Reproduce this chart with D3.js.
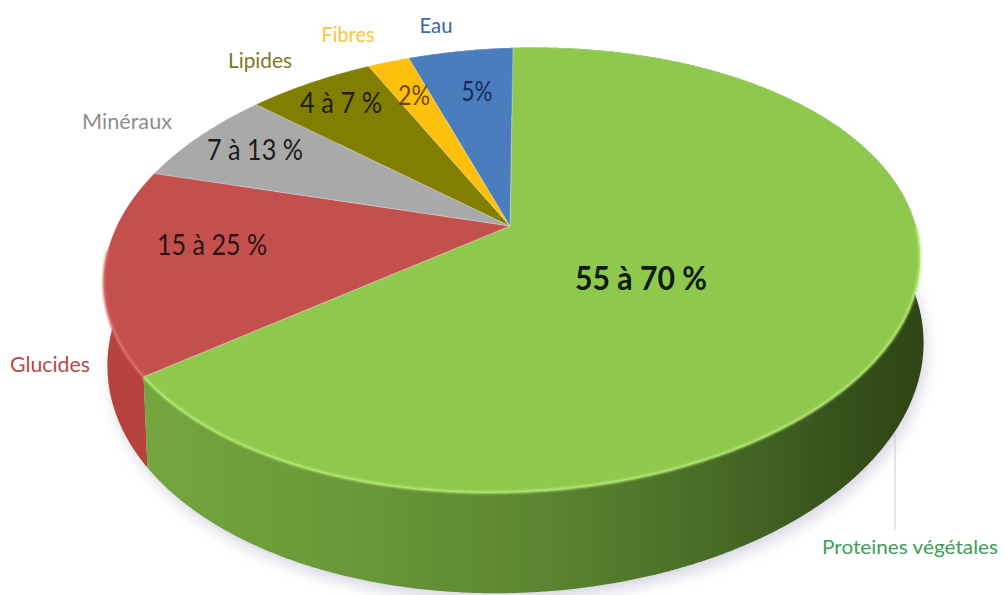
<!DOCTYPE html>
<html>
<head>
<meta charset="utf-8">
<script src="https://cdn.jsdelivr.net/npm/d3@7"></script>
<style>
  html, body { margin: 0; padding: 0; background: #ffffff; }
  svg { display: block; }
  text { font-family: Lato, "Open Sans", "Noto Sans", sans-serif; }
</style>
</head>
<body>
<svg id="chart" width="1006" height="595"></svg>
<script>
// ---- data ----
const categories = ["Proteines végétales", "Glucides", "Minéraux", "Lipides", "Fibres", "Eau"];
const values = [65, 15, 7, 6, 2, 5];
const valueLabels = ["55 à 70 %", "15 à 25 %", "7 à 13 %", "4 à 7 %", "2%", "5%"];

// ---- styles ----
const topColors = ["#8ec94d", "#c4504d", "#a9a9a9", "#807f02", "#fdc00c", "#4a7dbe"];
const rimColors = ["#b4ec72", "#d9706b", "#c4c4c4", "#9a9a20", "#ffd95a", "#6d9ad4"];
const valueColors = ["#0f1a08", "#2b1212", "#1c1c1c", "#1e1e02", "#6a4806", "#18295a"];
const nameColors = ["#3f9d5c", "#b9474b", "#8e8e8e", "#7b7b22", "#f7c73c", "#3a69a8"];

// label layout (centre x, baseline y, width, size, weight)
const valueLabelLayout = [
  [641, 290, 132, 32, 700],
  [212, 255, 110, 28, 400],
  [255, 160, 96, 28, 400],
  [341, 113, 82, 28, 400],
  [414, 105, 32, 26, 400],
  [477, 101, 31, 26, 400]
];
const nameLabelLayout = [
  [910, 554, 176, 20],
  [50, 372, 80, 22],
  [127, 129, 90, 22],
  [260, 68, 64, 22],
  [348, 42, 53, 22],
  [436, 33, 33, 22]
];

// ---- 3D view of the disc ----
const view = {
  cx: 510, cy: 226,        // projected centre of the top face
  focal: 1709,             // focal length (in pixels, radius = 1)
  dist: 4.27,              // camera distance (in radii)
  tilt: 32.2 * Math.PI / 180,
  roll: 2.45 * Math.PI / 180,
  depth: 0.239,            // thickness of the disc (in radii)
  start: 1.8 * Math.PI / 180
};
const sT = Math.sin(view.tilt), cT = Math.cos(view.tilt);
const sR = Math.sin(view.roll), cR = Math.cos(view.roll);

// theta: clockwise from the far point; r: radius fraction; h: height (0 = top face, negative = below)
// the thickness is drawn with the scale of the top rim so the walls stay upright
function project(theta, r, h) {
  const x = r * Math.sin(theta), z = -r * Math.cos(theta);
  const Y = h * cT - z * sT;
  const w = view.dist - z * cT;
  const px = view.focal * x / w, py = -view.focal * Y / w;
  return [view.cx + px * cR + py * sR, view.cy - px * sR + py * cR];
}
function rim(a0, a1, h) {
  const n = Math.max(2, Math.ceil(Math.abs(a1 - a0) / 0.005));
  return d3.range(n + 1).map(i => project(a0 + (a1 - a0) * i / n, 1, h));
}

const data = categories.map((c, i) => ({ name: c, value: values[i], label: valueLabels[i], i }));
const pie = d3.pie().sort(null).value(d => d.value)
  .startAngle(view.start).endAngle(view.start + 2 * Math.PI);
const arcs = pie(data);

const svg = d3.select("#chart");
const defs = svg.append("defs");
const line = d3.line();

defs.append("filter").attr("id", "shadowBlur").attr("x", "-20%").attr("y", "-20%")
  .attr("width", "140%").attr("height", "140%")
  .append("feGaussianBlur").attr("stdDeviation", 7);
defs.append("filter").attr("id", "rimBlur")
  .append("feGaussianBlur").attr("stdDeviation", 0.9);

// side wall gradients, darkening to the right
const wallStops = [
  [["0", "#76a840"], ["0.3", "#6a9838"], ["0.55", "#5a8430"], ["0.75", "#476a25"], ["0.9", "#36521b"], ["1", "#2d4515"]],
  [["0", "#b8423e"], ["1", "#9a3431"]],
  [["0", "#8f8f8f"], ["1", "#7a7a7a"]],
  [["0", "#6a6a02"], ["1", "#5a5a00"]],
  [["0", "#d9a300"], ["1", "#c89400"]],
  [["0", "#3d69a0"], ["1", "#335a8a"]]
];
wallStops.forEach((stops, i) => {
  const g = defs.append("linearGradient").attr("id", "wall" + i)
    .attr("gradientUnits", "userSpaceOnUse")
    .attr("x1", 100).attr("y1", 0).attr("x2", 925).attr("y2", 0);
  stops.forEach(s => g.append("stop").attr("offset", s[0]).attr("stop-color", s[1]));
});

// soft shadow under the disc
svg.append("path")
  .attr("d", line(rim(0, 2 * Math.PI, -view.depth)) + "Z")
  .attr("transform", "translate(3,7)")
  .attr("fill", "#b8b8cc")
  .attr("opacity", 0.55)
  .attr("filter", "url(#shadowBlur)");

// outer walls, far ones first
const depthOf = d => -Math.cos((d.startAngle + d.endAngle) / 2);
const walls = arcs.slice().sort((a, b) => depthOf(a) - depthOf(b));
svg.append("g").selectAll("path").data(walls).join("path")
  .attr("d", d => {
    const top = rim(d.startAngle, d.endAngle, 0);
    const bot = rim(d.endAngle, d.startAngle, -view.depth);
    return line(top.concat(bot)) + "Z";
  })
  .attr("fill", d => `url(#wall${d.data.i})`);

// top faces
svg.append("g").selectAll("path").data(arcs).join("path")
  .attr("d", d => line([project(0, 0, 0)].concat(rim(d.startAngle, d.endAngle, 0))) + "Z")
  .attr("fill", d => topColors[d.data.i])
  .attr("stroke", "rgba(255,255,255,0.35)")
  .attr("stroke-width", 0.8)
  .attr("stroke-linejoin", "round");

// bevel highlight along the front rim
const frontA = 95 * Math.PI / 180, frontB = 268 * Math.PI / 180;
svg.append("g").selectAll("path").data(arcs.filter(d => d.endAngle > frontA && d.startAngle < frontB))
  .join("path")
  .attr("d", d => line(rim(Math.max(d.startAngle, frontA), Math.min(d.endAngle, frontB), 0)))
  .attr("fill", "none")
  .attr("stroke", d => rimColors[d.data.i])
  .attr("stroke-width", 2.4)
  .attr("filter", "url(#rimBlur)");

// value labels
svg.append("g").selectAll("text").data(data).join("text")
  .attr("x", d => valueLabelLayout[d.i][0])
  .attr("y", d => valueLabelLayout[d.i][1])
  .attr("text-anchor", "middle")
  .attr("textLength", d => valueLabelLayout[d.i][2])
  .attr("lengthAdjust", "spacingAndGlyphs")
  .attr("font-size", d => valueLabelLayout[d.i][3])
  .attr("font-weight", d => valueLabelLayout[d.i][4])
  .attr("fill", d => valueColors[d.i])
  .text(d => d.label);

// leader line for the large slice
svg.append("line")
  .attr("x1", 895).attr("y1", 433).attr("x2", 895).attr("y2", 530)
  .attr("stroke", "#c9c9c9").attr("stroke-width", 1);

// category labels
svg.append("g").selectAll("text").data(data).join("text")
  .attr("x", d => nameLabelLayout[d.i][0])
  .attr("y", d => nameLabelLayout[d.i][1])
  .attr("text-anchor", "middle")
  .attr("textLength", d => nameLabelLayout[d.i][2])
  .attr("lengthAdjust", "spacingAndGlyphs")
  .attr("font-size", d => nameLabelLayout[d.i][3])
  .attr("fill", d => nameColors[d.i])
  .text(d => d.name);
</script>
</body>
</html>
